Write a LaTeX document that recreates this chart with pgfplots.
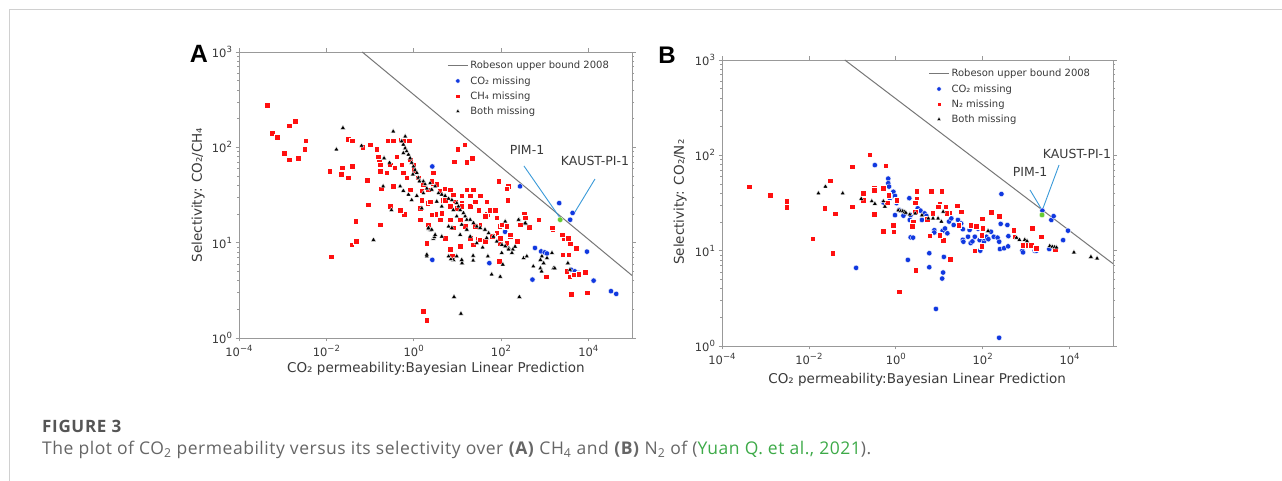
\documentclass[border=0pt]{standalone}
\usepackage{pgfplots}
\pgfplotsset{compat=1.18}
\usepackage{fontspec}
\setmainfont{DejaVu Sans}
\newfontfamily\capfont[LetterSpace=3]{Open Sans}
\newfontfamily\capfontb[LetterSpace=4]{Open Sans}
\newfontfamily\labfont{Liberation Sans}
\definecolor{ptblue}{HTML}{1038E0}
\definecolor{ptred}{HTML}{FF1010}
\definecolor{ptgreen}{HTML}{66CC33}
\definecolor{annot}{HTML}{3A9AD9}
\definecolor{axgray}{HTML}{999999}
\definecolor{txt}{HTML}{3A3A3A}
\definecolor{capgray}{HTML}{666666}
\definecolor{capdark}{HTML}{555555}
\definecolor{linkgreen}{HTML}{3DAA48}
\definecolor{framegray}{HTML}{D0D0D0}
\definecolor{robgray}{HTML}{777777}
\newcommand\sci[1]{10\raisebox{0.45em}{\fontsize{8.5}{8.5}\selectfont #1}}
\pgfplotsset{
 panel/.style={
  scale only axis, height=286pt, anchor=south west,
  xmin=1e-4, xmax=1e5, ymin=1, ymax=1000,
  axis line style={axgray, line width=0.8pt},
  tick style={axgray, line width=0.6pt},
  tick align=outside, major tick length=3.5pt, minor tick length=2pt,
  xtick={1e-4,1e-2,1,1e2,1e4},
  xticklabels={\sci{−4},\sci{−2},\sci{0},\sci{2},\sci{4}},
  ytick={1,10,100,1000},
  yticklabels={\sci{0},\sci{1},\sci{2},\sci{3}},
  xminorticks=false, yminorticks=true,
  ticklabel style={font=\fontsize{11.5}{12}\selectfont, text=txt},
  label style={font=\fontsize{13.5}{15}\selectfont, text=txt},
  legend style={draw=none, fill=none, font=\fontsize{10}{12}\selectfont, text=txt, anchor=north west, row sep=2pt},
  legend cell align=left,
 },
 robline/.style={robgray, line width=1pt, legend image code/.code={\draw[##1] (0pt,0pt) -- (20pt,0pt);}},
 bluemk/.style={only marks, mark=*, mark size=2.7pt, mark options={fill=ptblue, draw=white, line width=0.35pt}, legend image code/.code={\draw[mark repeat=1,##1,mark size=2.2pt] plot coordinates {(10pt,0pt)};}},
 redmk/.style={only marks, mark=square*, mark size=2.8pt, mark options={fill=ptred, draw=white, line width=0.35pt}, legend image code/.code={\draw[mark repeat=1,##1,mark size=2.3pt] plot coordinates {(10pt,0pt)};}},
 blkmk/.style={only marks, mark=triangle*, mark size=2.8pt, mark options={fill=black, draw=white, line width=0.3pt}, legend image code/.code={\draw[mark repeat=1,##1,mark size=2.2pt] plot coordinates {(10pt,0pt)};}},
 grnmk/.style={only marks, mark=*, mark size=2.8pt, mark options={fill=ptgreen, draw=white, line width=0.3pt}},
}
\begin{document}
\begin{tikzpicture}[x=1pt,y=1pt]
\path[use as bounding box, fill=white] (0,0) rectangle (1282,481);
\draw[framegray, line width=1.2pt] (9.5,0) -- (9.5,471.5) -- (1282,471.5);

% ---------------- Panel A ----------------
\begin{loglogaxis}[panel, width=393pt, at={(239pt,143pt)},
  xlabel={CO₂ permeability:Bayesian Linear Prediction},
  ylabel={Selectivity: CO₂/CH₄},
  xlabel style={at={(axis description cs:0.501,-0.107)}, anchor=center},
  ylabel style={at={(axis description cs:-0.104,0.5)}, anchor=center},
  legend style={at={(axis description cs:0.522,0.982)}},
]
\addplot[robline] coordinates {(0.0664,1000) (1e5,4.53)};
\addlegendentry{Robeson upper bound 2008}
\addplot[bluemk] coordinates {
(2.67,63) (2.67,6.6) (35,31) (273,39) (54,6.1) (124,13) (600,8.8) (830,8.1) (1000,7.9) (1130,7.7)
(525,4.1) (2150,26) (3840,17.4) (4360,20.5) (9300,8.05) (13200,4.0) (33000,3.1) (43500,2.9)
(4000,5.2) (4900,5.0) (6000,4.8)
};
\addlegendentry{CO₂ missing}
\addplot[redmk] coordinates {
(4.4e-4,276) (5.8e-4,141) (7.6e-4,128) (1.1e-3,87) (1.4e-3,74) (1.4e-3,169) (1.96e-3,187) (2.3e-3,77)
(3.2e-3,95) (3.4e-3,117) (0.012,56) (0.013,7.1) (0.023,61) (0.022,52) (0.032,122) (0.039,117)
(0.032,48) (0.039,63) (0.038,9.5) (0.049,10.3) (0.047,16.7) (0.068,100) (0.087,45) (0.09,25)
(0.1,107) (0.16,75) (0.17,63) (0.17,15.3) (0.18,37) (0.24,120) (0.25,54) (0.27,24) (0.33,118)
(0.34,39) (0.41,80) (0.46,22) (0.5,120) (0.6,20) (0.72,120) (1.0,66) (1.4,23) (1.35,17.4)
(1.65,1.9) (2.0,1.53) (2.0,9.9) (2.8,54) (2.8,42) (2.1,26) (3.2,20) (4.6,28) (5.2,37) (6.8,17.5)
(7.0,8.5) (8.3,71) (9.7,94) (14,104) (16.5,70) (22,77) (12.6,26) (23,36) (29,11) (32,15.4) (48,20)
(90,43) (148,39) (143,28) (93,14.8) (95,9.8) (90,6.4) (160,11.7) (344,20) (437,14.6) (720,17.4)
(1070,4.4) (1520,13.7) (2800,11) (2600,7.5) (3800,9.8) (3400,11.2) (5300,8.7) (4000,2.9) (8500,4.9)
(9500,3.0) (3200,5.0) (3700,4.4) (4600,4.6) (6000,4.7)
(0.26,117) (0.34,117) (0.58,117) (0.8,117) (10.1,96) (14.6,107) (8.6,71) (16.5,70) (0.142,95)
(0.155,80) (0.17,66) (0.17,56) (0.24,54) (0.29,66) (0.37,61) (0.41,80) (0.53,66) (0.58,54) (0.83,74)
(0.69,48) (0.99,58) (1.28,48) (1.67,41) (1.53,35) (2.18,36) (2.59,44) (3.38,41) (4.0,35) (5.25,37)
(6.8,36) (8.1,32) (8.9,27) (5.25,28) (6.8,24) (9.7,23) (12.6,31) (12.6,24) (16.5,36) (19.7,31)
(19.7,24) (25.6,27) (30.5,22) (33.3,31) (47,27) (43,18.9) (56.5,22) (74,22) (80,18.2) (88,44)
(136,37) (105,15.5) (136,14.8) (80,12.6) (96,11.2) (163,12.1) (136,9.9) (276,15.5) (359,18.2)
(726,17.4) (1470,14.3) (2490,12.1) (3540,7.5) (6.8,8.5) (7.5,7.2) (5.25,11.2) (0.29,24) (0.49,22)
(1.4,23) (1.4,17.4) (2.59,19.7) (4.4,20.5) (0.17,15.5) (1.53,28) (0.83,36) (2.38,27) (11.6,17.4)
(8.1,14.3) (15.1,14.8) (25.6,14.8) (33.3,10.7) (43,10.3) (62,11.7) (2.18,15.5) (4.0,17.4) (11.6,9.2)
(19.7,11.2) (23.4,9.5) (231,10.3)
};
\addlegendentry{CH₄ missing}
\addplot[blkmk] coordinates {
(0.024,160) (0.017,95) (0.064,104) (0.2,39) (0.34,147) (0.28,69) (0.12,10.7) (8.4,2.7) (12.1,1.8)
(263,2.7) (96,4.4) (550,5.65) (800,6.6) (800,5.4) (850,5.0) (1600,5.4) (1700,5.4) (3400,6.1)
(3800,5.2) (256,17.4) (370,15.8) (150,8.8) (187,8.5) (210,9.1) (330,6.9) (390,7.2) (2.0,7.2)
(2.8,11) (2.2,14) (2.4,13.5) (3.0,11.4) (8.1,6.6) (7.1,6.7) (12.8,6.1) (23,7.3) (23,6.5) (38,8.9)
(61,4.65) (50,7.2) (104,7.8) (110,5.9)
(0.53,116) (0.58,107) (0.64,98) (0.69,91) (0.76,84) (0.58,87) (0.83,77) (0.9,69) (0.99,63) (1.08,58)
(1.18,54) (0.96,52) (1.28,48) (1.4,44) (1.67,44) (1.82,41) (2.0,37) (2.38,42) (2.59,36) (3.1,39)
(3.7,33) (4.4,32) (5.25,31) (6.3,29) (7.5,28) (9.7,26) (10.6,24) (11.6,22) (13.8,20.5) (15.1,18.9)
(16.5,17.4) (19.7,17.4) (23.4,16.1) (27.9,14.8) (33.3,14.3) (43,13.7) (52,12.6) (67,11.6) (80,10.3)
(105,9.5) (125,9.2) (149,8.5) (178,7.8) (6.3,14.8) (7.5,14.3) (11.6,12.1) (19.7,11.6) (27.9,9.9)
(47,11.2) (2.18,14.3) (2.59,13.7) (3.1,12.1) (2.0,7.5) (6.3,7.2) (9.7,7.2) (12.6,6.6) (4.4,11.6)
(125,16.7) (252,17.4) (359,16.1) (0.31,22) (0.21,77) (0.64,130) (1.35,44) (1.67,33) (0.49,39)
(0.58,35) (0.76,32) (3.38,27) (4.4,24) (8.1,22) (9.7,18.9) (12.6,15.5) (16.5,13.7) (1.18,31)
(1.53,23) (0.9,28) (946,6.1) (865,7.2) (1130,6.9) (1470,7.8)
};
\addlegendentry{Both missing}
\addplot[grnmk, forget plot] coordinates {(2265,17.4)};
\draw[annot, line width=0.9pt] (axis cs:336,63.7) -- (axis cs:2245,18.2);
\draw[annot, line width=0.9pt] (axis cs:14190,46.5) -- (axis cs:4940,21);
\node[font=\fontsize{12.5}{14}\selectfont, text=txt] at (axis cs:394,93.8) {PIM-1};
\node[font=\fontsize{12.5}{14}\selectfont, text=txt] at (axis cs:14190,71.9) {KAUST-PI-1};
\end{loglogaxis}

% ---------------- Panel B ----------------
\begin{loglogaxis}[panel, width=391pt, at={(722pt,135pt)},
  xlabel={CO₂ permeability:Bayesian Linear Prediction},
  ylabel={Selectivity: CO₂/N₂},
  xlabel style={at={(axis description cs:0.499,-0.119)}, anchor=center},
  ylabel style={at={(axis description cs:-0.107,0.503)}, anchor=center},
  legend style={at={(axis description cs:0.52,0.982)}},
]
\addplot[robline] coordinates {(0.0671,1000) (1e5,7.30)};
\addlegendentry{Robeson upper bound 2008}
\addplot[bluemk] coordinates {
(0.33,79) (0.67,57) (0.67,51) (0.7,47) (0.88,41.5) (0.96,37.5) (0.73,35.5) (0.61,31.5) (0.52,32)
(1.04,31.5) (1.2,26.7) (0.96,23.6) (1.6,24.6) (1.5,23.3) (2.05,35.5) (2.2,23.6) (2.1,21) (2.2,13.8)
(2.5,13.7) (3.2,27.8) (3.7,26.3) (4.6,24.6) (5.1,23.2) (4.0,21) (1.9,8.0) (0.122,6.6) (5.9,9.4)
(5.9,6.7) (8.4,2.45) (11.7,5.1) (12.3,5.9) (12.8,8.6) (7.7,16.4) (7.7,15.5) (12,16.2) (13.6,17.1)
(15.4,15.2) (16.8,20.2) (19,21.8) (21.5,18.6) (27,21) (32,19.3) (35,16.8) (35,13) (36,12.4) (46,14)
(50,16.5) (53,12) (58,12.5) (66,14) (78,17) (85,12.9) (88,10) (107,12.5) (110,13.5) (122,14)
(135,13.2) (155,15.8) (180,14) (220,13.7) (240,12.4) (260,19.1) (370,18.6) (390,14.2) (270,39.3)
(250,10.4) (310,10.6) (385,11.1) (239,1.22) (820,10) (850,9.6) (1580,10) (1740,10) (2370,26.3)
(3800,21) (4300,23) (3400,10.4) (7100,12.9) (9200,16.2)
};
\addlegendentry{CO₂ missing}
\addplot[redmk] coordinates {
(4.2e-4,47) (1.3e-3,38) (3.1e-3,33) (3.1e-3,28.5) (0.0123,13.3) (0.023,28) (0.031,54) (0.04,24.4)
(0.035,9.4) (0.1,76) (0.1,29) (0.25,102) (0.18,40) (0.18,34) (0.32,46) (0.32,43) (0.32,24) (0.58,78)
(0.52,45) (0.52,16) (0.88,18.6) (0.9,15.8) (0.63,32) (1.04,34) (1.18,3.7) (3.0,42) (3.0,34.5)
(2.8,32) (2.8,25.6) (2.5,20.2) (2.4,18) (2.9,6.2) (6.5,42) (11.3,42) (6.0,14.3) (5.3,21.5) (7.0,24.6)
(10.2,31) (14,29) (17.5,25) (26,29.5) (32,25.6) (18,8.2) (12.3,12.9) (28,18.6) (55,18.6) (66,10)
(97,21.7) (101,17.2) (94,14.6) (94,11.2) (155,25.3) (240,23) (520,16.5) (540,14) (850,11.4)
(1100,11.4) (1300,11.5) (1370,17.1) (2240,14.0) (1700,10.6) (4600,10.4) (0.68,38) (9.5,29)
(14.7,24.6) (10.2,14.5) (72,18.1)
};
\addlegendentry{N₂ missing}
\addplot[blkmk] coordinates {
(0.0166,40) (0.024,47) (0.06,40) (0.16,35) (0.28,33) (0.33,31) (0.52,33) (0.56,29) (1.14,26.5)
(1.3,26) (1.45,26) (1.6,25.5) (1.7,25) (2.1,24) (2.8,24.6) (4.0,23.5) (5.6,21.8) (7.2,21.8)
(9.4,21.8) (11.2,20.2) (12.3,25.6) (133,16.1) (600,13.7) (700,13) (930,13) (1050,12.6) (3500,11.2)
(4000,11) (4500,10.9) (5000,10.8) (12600,9.6) (31000,8.6) (43000,8.3)
};
\addlegendentry{Both missing}
\addplot[grnmk, forget plot] coordinates {(2323,23.7)};
\draw[annot, line width=0.9pt] (axis cs:1230,43.3) -- (axis cs:2323,26.7);
\draw[annot, line width=0.9pt] (axis cs:5730,79.2) -- (axis cs:2323,26.1);
\node[font=\fontsize{12.5}{14}\selectfont, text=txt] at (axis cs:1230,66.9) {PIM-1};
\node[font=\fontsize{12.5}{14}\selectfont, text=txt] at (axis cs:14860,103) {KAUST-PI-1};
\end{loglogaxis}

% panel letters
\node[font=\labfont\bfseries\fontsize{25}{25}\selectfont] at (199,427) {A};
\node[font=\labfont\bfseries\fontsize{24}{24}\selectfont] at (667,426) {B};

% caption
\node[anchor=base west, inner sep=0, font=\capfontb\bfseries\fontsize{17}{18}\selectfont, text=capdark] at (42,48) {FIGURE 3};
\node[anchor=base west, inner sep=0, font=\capfont\fontsize{17.5}{19}\selectfont, text=capgray] at (42,26) {The plot of CO\textsubscript{2} permeability versus its selectivity over \textbf{(A)} CH\textsubscript{4} and \textbf{(B)} N\textsubscript{2} of ({\color{linkgreen}Yuan Q. et al., 2021}).};
\end{tikzpicture}
\end{document}
